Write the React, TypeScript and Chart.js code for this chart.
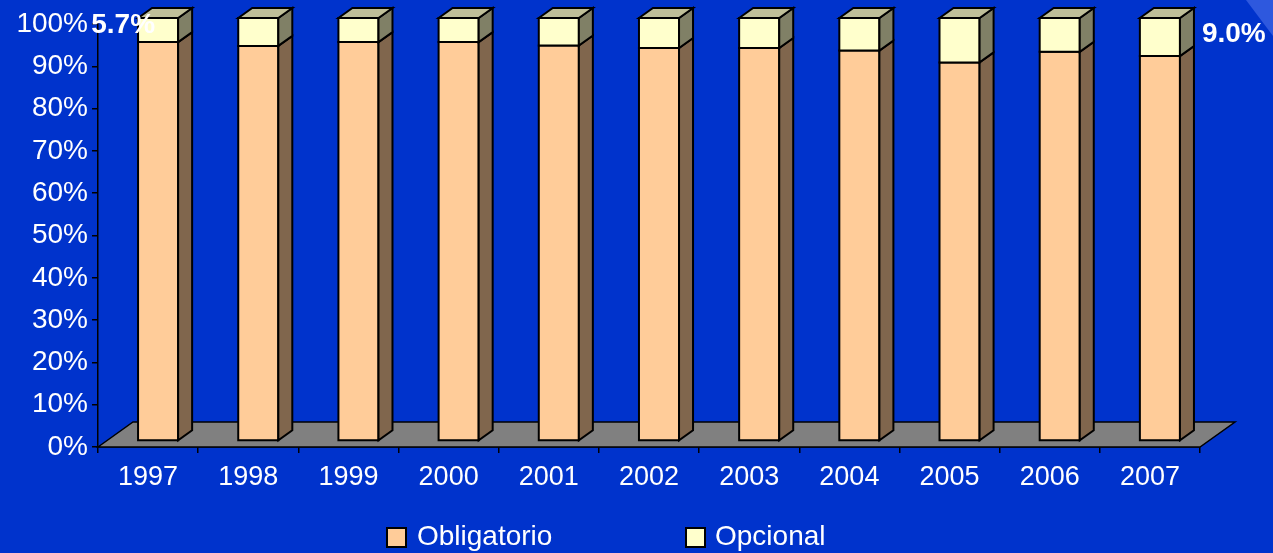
import React, { useEffect, useRef } from "react";
import { Chart, registerables } from "chart.js";

Chart.register(...registerables);

const categories = ["1997", "1998", "1999", "2000", "2001", "2002", "2003", "2004", "2005", "2006", "2007"];
const obligatorio = [94.3, 93.4, 94.3, 94.3, 93.5, 92.9, 92.9, 92.3, 89.5, 92.0, 91.0];
const opcional = [5.7, 6.6, 5.7, 5.7, 6.5, 7.1, 7.1, 7.7, 10.5, 8.0, 9.0];
const seriesNames = ["Obligatorio", "Opcional"];
const yTickValues = [0, 10, 20, 30, 40, 50, 60, 70, 80, 90, 100];
const labeledIndices = [0, 10];

const FONT = '"Liberation Sans", Arial, Helvetica, sans-serif';
const BG = "#0033CC";
const OX = 10, OY = -6; // front face offset from axis plane
const DX = 14, DY = -10; // bar depth
const FDX = 35, FDY = -25; // floor depth

function shade(hex: string, f: number) {
  const n = parseInt(hex.slice(1), 16);
  const r = Math.round(((n >> 16) & 255) * f);
  const g = Math.round(((n >> 8) & 255) * f);
  const b = Math.round((n & 255) * f);
  return `rgb(${r},${g},${b})`;
}

function poly(ctx: CanvasRenderingContext2D, pts: number[][], fill: string) {
  ctx.beginPath();
  ctx.moveTo(pts[0][0], pts[0][1]);
  for (let i = 1; i < pts.length; i++) ctx.lineTo(pts[i][0], pts[i][1]);
  ctx.closePath();
  ctx.fillStyle = fill;
  ctx.fill();
  ctx.stroke();
}

const threeD = {
  id: "threeD",
  beforeDraw(chart: any) {
    const { ctx, width, height } = chart;
    ctx.save();
    ctx.fillStyle = BG;
    ctx.fillRect(0, 0, width, height);
    ctx.fillStyle = "#2E58DE";
    ctx.beginPath();
    ctx.moveTo(width - 27, 0);
    ctx.lineTo(width, 0);
    ctx.lineTo(width, 36);
    ctx.closePath();
    ctx.fill();
    ctx.restore();
  },
  beforeDatasetsDraw(chart: any) {
    const { ctx } = chart;
    const { left, right, bottom } = chart.chartArea;
    ctx.save();
    ctx.strokeStyle = "#000";
    ctx.lineWidth = 1.5;
    ctx.lineJoin = "miter";
    poly(ctx, [[left, bottom], [left + FDX, bottom + FDY], [right + FDX, bottom + FDY], [right, bottom]], "#808080");
    ctx.restore();
  },
  beforeDatasetDraw() {
    return false;
  },
  afterDatasetsDraw(chart: any) {
    const { ctx } = chart;
    const n = chart.data.labels.length;
    const dsCount = chart.data.datasets.length;
    ctx.save();
    ctx.strokeStyle = "#000";
    ctx.lineWidth = 2;
    ctx.lineJoin = "miter";
    for (let i = 0; i < n; i++) {
      for (let d = 0; d < dsCount; d++) {
        const el = chart.getDatasetMeta(d).data[i];
        const color = chart.data.datasets[d].backgroundColor as string;
        const { x, y, base, width } = el.getProps(["x", "y", "base", "width"], true);
        const xl = x - width / 2 + OX;
        const xr = x + width / 2 + OX;
        const yt = Math.min(y, base) + OY;
        const yb = Math.max(y, base) + OY;
        // front
        poly(ctx, [[xl, yt], [xr, yt], [xr, yb], [xl, yb]], color);
        // side
        poly(ctx, [[xr, yt], [xr + DX, yt + DY], [xr + DX, yb + DY], [xr, yb]], shade(color, 0.5));
        if (d === dsCount - 1) {
          poly(ctx, [[xl, yt], [xl + DX, yt + DY], [xr + DX, yt + DY], [xr, yt]], shade(color, 0.75));
        }
      }
    }
    // value labels
    ctx.fillStyle = "#fff";
    ctx.font = `bold 28px ${FONT}`;
    ctx.textBaseline = "alphabetic";
    const top = chart.getDatasetMeta(dsCount - 1);
    labeledIndices.forEach((i) => {
      const el = top.data[i];
      const { x, y, width } = el.getProps(["x", "y", "width"], true);
      const txt = opcional[i].toFixed(1) + "%";
      if (i === 0) {
        ctx.textAlign = "right";
        ctx.fillText(txt, x - width / 2 + OX + 17, y + 9);
      } else {
        ctx.textAlign = "left";
        ctx.fillText(txt, x + width / 2 + OX + DX + 8, y + 18);
      }
    });
    ctx.restore();
  },
  afterDraw(chart: any) {
    const { ctx } = chart;
    const pos = [
      [387, 417],
      [686, 715],
    ];
    ctx.save();
    ctx.font = `28px ${FONT}`;
    ctx.textBaseline = "alphabetic";
    ctx.textAlign = "left";
    chart.data.datasets.forEach((ds: any, k: number) => {
      const [bx, tx] = pos[k];
      ctx.fillStyle = ds.backgroundColor;
      ctx.fillRect(bx, 528, 19, 19);
      ctx.strokeStyle = "#000";
      ctx.lineWidth = 2;
      ctx.strokeRect(bx, 528, 19, 19);
      ctx.fillStyle = "#fff";
      ctx.fillText(ds.label, tx, 545);
    });
    ctx.restore();
  },
};

export default function App() {
  const ref = useRef<HTMLCanvasElement | null>(null);
  useEffect(() => {
    document.body.style.margin = "0";
    document.body.style.background = BG;
    Chart.defaults.font.family = FONT;
    const chart = new Chart(ref.current as HTMLCanvasElement, {
      type: "bar",
      data: {
        labels: categories,
        datasets: [
          { label: seriesNames[0], data: obligatorio, backgroundColor: "#FFCC99", borderWidth: 0 },
          { label: seriesNames[1], data: opcional, backgroundColor: "#FFFFCC", borderWidth: 0 },
        ],
      },
      options: {
        responsive: false,
        animation: false,
        layout: { padding: { top: 24, right: 73, left: 0, bottom: 0 } },
        plugins: { legend: { display: false }, tooltip: { enabled: false } },
        datasets: { bar: { barPercentage: 0.4, categoryPercentage: 1 } },
        scales: {
          x: {
            stacked: true,
            grid: { display: true, drawOnChartArea: false, drawTicks: true, tickLength: 6, color: "#000", offset: true, lineWidth: 1.5 },
            border: { display: true, color: "#000", width: 1.5 },
            ticks: { color: "#fff", font: { size: 27 }, padding: 8, maxRotation: 0 },
            afterFit: (s: any) => {
              s.height = 106;
            },
          },
          y: {
            stacked: true,
            min: 0,
            max: 100,
            afterBuildTicks: (s: any) => {
              s.ticks = yTickValues.map((v) => ({ value: v }));
            },
            grid: { display: true, drawOnChartArea: false, tickLength: 6, color: "#000", lineWidth: 1.5 },
            border: { display: true, color: "#000", width: 1.5 },
            ticks: { color: "#fff", font: { size: 28 }, padding: 4, callback: (v: any) => v + "%" },
            afterFit: (s: any) => {
              s.width = 98;
            },
          },
        },
      },
      plugins: [threeD],
    });
    return () => chart.destroy();
  }, []);
  return <canvas ref={ref} width={1273} height={553} style={{ display: "block" }} />;
}
